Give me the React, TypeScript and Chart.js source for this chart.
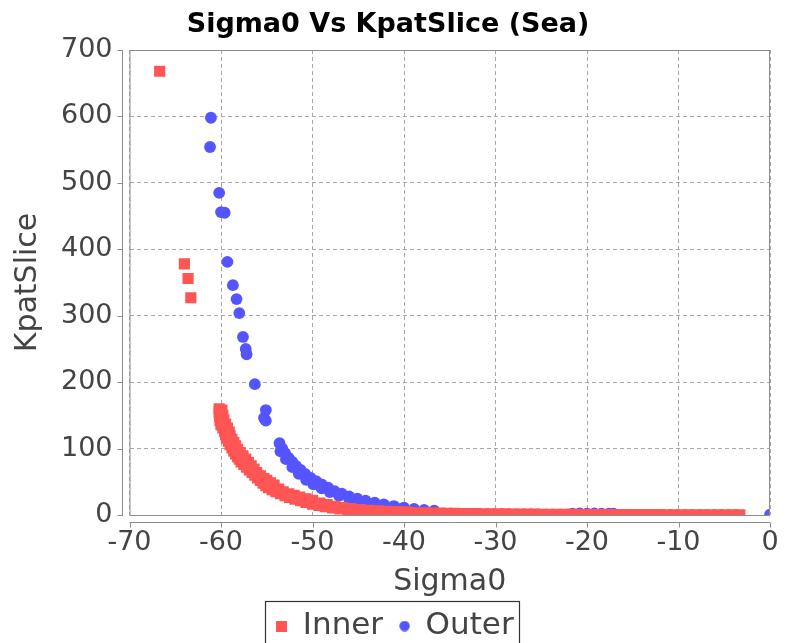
import { useEffect, useRef } from "react";
import { Chart, registerables } from "chart.js";

Chart.register(...registerables);

const TITLE = "Sigma0 Vs KpatSlice (Sea)";
const X_LABEL = "Sigma0";
const Y_LABEL = "KpatSlice";
const SERIES_NAMES = ["Inner", "Outer"];

const X_MIN = -70;
const X_MAX = 0;
const X_STEP = 10;
const Y_MIN = 0;
const Y_MAX = 700;
const Y_STEP = 100;

// Inner series (red squares)
const innerX = [
  -66.7, -64.0, -63.6, -63.3,
  -60.2, -60.2, -60.15, -60.1, -60.0, -59.8, -59.6, -59.5, -59.4, -59.2,
  -59.0, -58.8, -58.6, -58.4, -58.2, -58.0, -57.8, -57.5, -57.2, -56.9,
  -56.6, -56.3, -56.0, -55.7, -55.4, -55.1, -54.8, -54.4, -54.0, -53.5,
  -53.0, -52.5, -51.9, -51.3, -50.7, -50.0, -49.3, -48.6, -47.8, -47.0,
  -46.1, -45.2, -44.2, -43.2, -42.2, -41.2, -40.2,
  -59.9, -59.8, -59.7, -59.5, -59.3, -59.1, -59.0, -58.8, -58.6, -58.4,
  -58.2, -57.9, -57.6, -57.3, -57.0, -56.7, -56.4, -56.1, -55.7, -55.3,
  -55.0, -54.6, -54.2, -53.7, -53.2, -52.6, -52.0, -51.4, -50.7, -50.0,
  -49.2, -48.4, -47.6, -46.7, -45.8, -44.8, -43.8, -42.8, -41.8, -40.8,
  -39.8,
  -39.3, -38.5, -37.7, -36.9, -36.1, -35.3, -34.5, -33.7, -32.9, -32.1,
  -31.3, -30.5, -29.7, -28.9, -28.1, -27.3, -26.5, -25.7, -24.9, -24.1,
  -23.3, -22.5, -21.7, -20.9, -20.1, -19.3, -18.5, -17.7, -16.9, -16.1,
  -15.3, -14.5, -13.7, -12.9, -12.1, -11.3, -10.5, -9.7, -8.9, -8.1,
  -7.3, -6.5, -5.7, -4.9, -4.1, -3.3,
];
const innerY = [
  668, 378, 356, 327,
  160, 154, 148, 142, 136, 131, 126, 121, 116, 111,
  106, 101, 96, 92, 88, 84, 80, 76, 72, 68,
  64, 60, 56, 52, 48, 44, 41, 38, 35, 32,
  29, 26.5, 24, 21.5, 19, 16.5, 14.5, 12.5, 10.5, 9,
  7.8, 6.8, 6, 5.3, 4.7, 4.2, 3.8,
  158, 150, 143, 137, 131, 125, 119, 114, 109, 104,
  99, 94, 89, 84, 79, 74, 69, 64, 59, 55,
  52, 48.5, 45, 39, 35, 32, 29.5, 27, 24.5, 22,
  18, 15.5, 13, 11, 9.5, 8.2, 7.2, 6.4, 5.7, 5.1,
  4.6,
  3.6, 3.4, 3.2, 3.0, 2.8, 2.6, 2.5, 2.3, 2.2, 2.0,
  1.9, 1.8, 1.7, 1.6, 1.5, 1.4, 1.3, 1.2, 1.1, 1.0,
  1.0, 0.9, 0.9, 0.8, 0.8, 0.7, 0.7, 0.7, 0.6, 0.6,
  0.6, 0.5, 0.5, 0.5, 0.5, 0.4, 0.4, 0.4, 0.4, 0.4,
  0.3, 0.3, 0.3, 0.3, 0.3, 0.3,
];

// Outer series (blue circles)
const outerX = [
  -61.1, -61.2, -60.2, -60.0, -59.6, -59.3, -58.7, -58.3, -58.0, -57.6,
  -57.3, -57.2, -56.3, -55.1, -55.3, -55.1,
  -53.6, -53.3, -53.0, -52.6, -52.2, -51.8, -51.3, -50.8, -50.2, -49.6,
  -49.0, -48.3, -47.6, -46.8, -46.0, -45.1, -44.2, -43.2, -42.2, -41.1,
  -40.0, -38.9, -37.8, -36.7,
  -53.5, -52.9, -52.2, -51.5, -50.7, -49.9, -49.0, -48.1, -47.1, -46.0,
  -44.9, -43.8, -42.6, -41.4, -40.2, -38.9,
  -21.6, -20.8, -20.0, -19.2, -18.4, -17.6, -17.1,
  0.0,
];
const outerY = [
  598, 554, 485, 456, 455, 381, 346, 325, 304, 268,
  250, 242, 197, 158, 146, 142,
  108, 100, 93, 86, 80, 74, 68, 62, 56, 51,
  46, 41, 36, 32, 28, 24.5, 21.5, 18.5, 16, 13.5,
  11, 9, 7.5, 6.5,
  96, 84, 72, 62, 53, 46, 40, 34.5, 29, 24.5,
  20.5, 17, 14, 11.5, 9.5, 7.5,
  2.2, 2.3, 2.2, 2.3, 2.2, 2.1, 2.0,
  0.5,
];

const FONT = "'DejaVu Sans', sans-serif";
const RED = "#FF5555";
const BLUE = "#5555FF";
const TEXT_GREY = "#444444";
const GRID_GREY = "#a8a8a8";
const FRAME_GREY = "#8c8c8c";
const LEGEND_SHIFT_Y = -5.5;
const LEGEND_SHIFT_X = 7;

function makeIcon(color: string, circle: boolean): HTMLCanvasElement {
  const c = document.createElement("canvas");
  c.width = 11;
  c.height = 11;
  const g = c.getContext("2d")!;
  g.fillStyle = color;
  if (circle) {
    g.beginPath();
    g.arc(5.5, 5.5, 5.2, 0, Math.PI * 2);
    g.fill();
  } else {
    g.fillRect(0, 0, 11, 11);
  }
  return c;
}

const framePlugin = {
  id: "jfreeFrame",
  afterLayout(chart: any) {
    const lg = chart.legend;
    if (lg) {
      lg.top += LEGEND_SHIFT_Y;
      lg.bottom += LEGEND_SHIFT_Y;
      lg.left += LEGEND_SHIFT_X;
      lg.right += LEGEND_SHIFT_X;
      (lg.legendHitBoxes || []).forEach((h: any) => {
        h.top += LEGEND_SHIFT_Y;
        h.left += LEGEND_SHIFT_X;
      });
    }
  },
  afterDatasetsDraw(chart: any) {
    const { ctx, chartArea: a, scales } = chart;
    ctx.save();
    ctx.strokeStyle = FRAME_GREY;
    ctx.lineWidth = 1;
    ctx.strokeRect(a.left + 0.5, a.top + 0.5, a.right - a.left - 1, a.bottom - a.top);
    ctx.beginPath();
    const ax = Math.round(a.left - 8) + 0.5;
    ctx.moveTo(ax, a.top);
    ctx.lineTo(ax, a.bottom + 1);
    scales.y.ticks.forEach((t: any) => {
      const py = Math.round(scales.y.getPixelForValue(t.value)) + 0.5;
      ctx.moveTo(ax - 5, py);
      ctx.lineTo(ax, py);
    });
    const ay = Math.round(a.bottom + 7) + 0.5;
    ctx.moveTo(a.left, ay);
    ctx.lineTo(a.right, ay);
    scales.x.ticks.forEach((t: any) => {
      const px = Math.round(scales.x.getPixelForValue(t.value)) + 0.5;
      ctx.moveTo(px, ay);
      ctx.lineTo(px, ay + 5);
    });
    ctx.stroke();
    ctx.restore();
  },
  afterDraw(chart: any) {
    const lg = chart.legend;
    if (!lg || !lg.legendHitBoxes || !lg.legendHitBoxes.length) return;
    const hb = lg.legendHitBoxes;
    const first = hb[0];
    const last = hb[hb.length - 1];
    const left = Math.round(first.left - 11) + 0.5;
    const right = Math.round(last.left + last.width + 5) + 0.5;
    const top = Math.round(first.top - 4) + 0.5;
    const { ctx } = chart;
    ctx.save();
    ctx.strokeStyle = "#333333";
    ctx.lineWidth = 1.2;
    ctx.strokeRect(left, top, right - left, chart.height + 10 - top);
    ctx.restore();
  },
};

export default function App() {
  const ref = useRef<HTMLCanvasElement | null>(null);

  useEffect(() => {
    if (!ref.current) return;
    Chart.defaults.font.family = FONT;
    const icons = [makeIcon(RED, false), makeIcon(BLUE, true)];
    const chart = new Chart(ref.current, {
      type: "scatter",
      data: {
        datasets: [
          {
            label: SERIES_NAMES[0],
            data: innerX.map((x, i) => ({ x, y: innerY[i] })),
            backgroundColor: RED,
            borderColor: RED,
            pointStyle: "rect",
            pointRadius: 7.9,
            pointBorderWidth: 0,
            clip: 0,
          },
          {
            label: SERIES_NAMES[1],
            data: outerX.map((x, i) => ({ x, y: outerY[i] })),
            backgroundColor: BLUE,
            borderColor: BLUE,
            pointStyle: "circle",
            pointRadius: 5.9,
            pointBorderWidth: 0,
            clip: 0,
          },
        ],
      },
      options: {
        animation: false,
        responsive: true,
        maintainAspectRatio: false,
        events: [],
        layout: { padding: { left: 6, right: 24, top: 0, bottom: -14 } },
        scales: {
          x: {
            type: "linear",
            min: X_MIN,
            max: X_MAX,
            ticks: { stepSize: X_STEP, color: TEXT_GREY, font: { size: 27 }, padding: 12 },
            grid: { color: GRID_GREY, lineWidth: 1, drawTicks: false },
            border: { display: false, dash: [4, 3] },
            title: {
              display: true,
              text: X_LABEL,
              color: TEXT_GREY,
              font: { size: 30 },
              padding: { top: 1.5, bottom: 0 },
            },
            afterFit: (s: any) => {
              s.height = 85;
            },
          },
          y: {
            type: "linear",
            min: Y_MIN,
            max: Y_MAX,
            ticks: { stepSize: Y_STEP, color: TEXT_GREY, font: { size: 27 }, padding: 17 },
            grid: { color: GRID_GREY, lineWidth: 1, drawTicks: false },
            border: { display: false, dash: [4, 3] },
            title: {
              display: true,
              text: Y_LABEL,
              color: TEXT_GREY,
              font: { size: 30 },
              padding: { top: 4, bottom: 0 },
            },
            afterFit: (s: any) => {
              s.width = 123.5;
            },
          },
        },
        plugins: {
          title: {
            display: true,
            text: TITLE,
            color: "#000000",
            font: { size: 27, weight: "bold" },
            padding: { top: 9, bottom: 8.6 },
          },
          legend: {
            position: "bottom",
            labels: {
              usePointStyle: true,
              boxWidth: 11,
              boxHeight: 11,
              padding: 16,
              color: TEXT_GREY,
              font: { size: 31 },
              generateLabels: (c: any) =>
                (Chart.defaults.plugins.legend.labels as any)
                  .generateLabels(c)
                  .map((it: any, i: number) => ({ ...it, pointStyle: icons[i], lineWidth: 0 })),
            },
          },
          tooltip: { enabled: false },
        },
      } as any,
      plugins: [framePlugin as any],
    });
    return () => chart.destroy();
  }, []);

  return (
    <div
      style={{
        position: "fixed",
        left: 0,
        top: 0,
        width: 794,
        height: 643,
        background: "#ffffff",
      }}
    >
      <canvas ref={ref} />
    </div>
  );
}
